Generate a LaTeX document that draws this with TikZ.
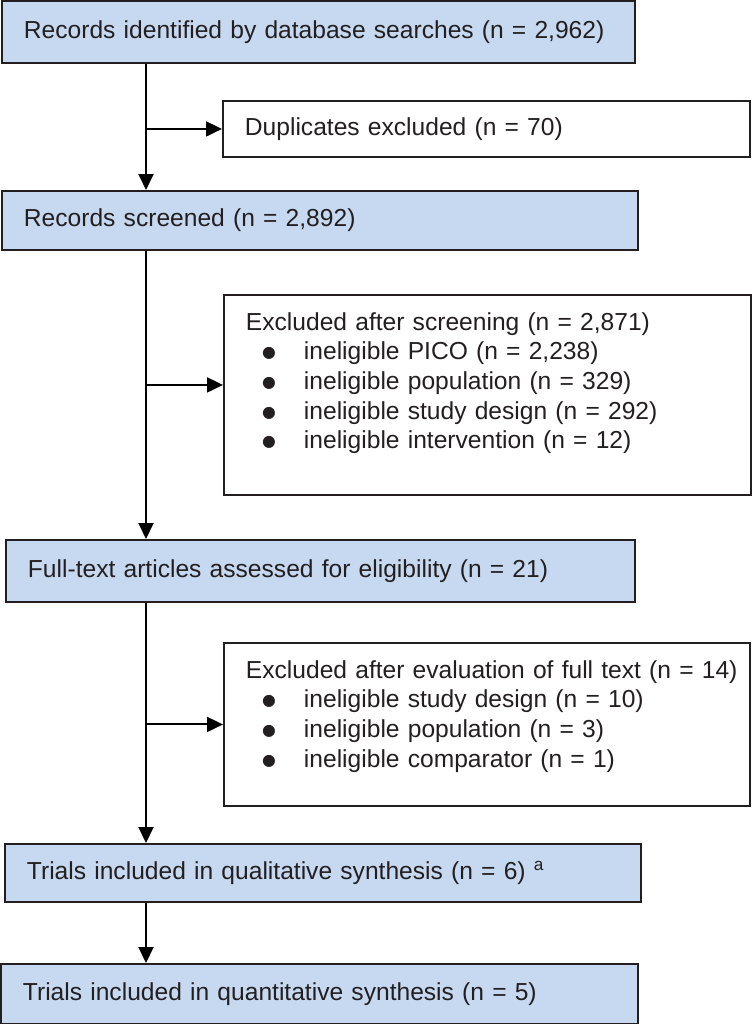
\documentclass[tikz,border=0pt]{standalone}
\usepackage{fontspec}
\setmainfont{Liberation Sans}
\newfontfamily\simboli{DejaVu Sans}
\usetikzlibrary{arrows.meta}
\newcommand{\voce}[1]{\hspace*{0.33cm}\makebox[0.26cm][c]{\raisebox{0.04cm}{\simboli\fontsize{9}{9}\selectfont ●}}\hspace*{0.57cm}#1}

\begin{document}
\begin{tikzpicture}[->, >={Triangle[length=0.32cm, width=0.3cm]}, x=0.02cm, y=-0.02cm, line width=1.1pt, font=\fontsize{14}{16.8}\selectfont]
%====Definizione colori===============================================================
	\definecolor{celeste}{RGB}{198,217,241}
	\definecolor{scuro}{RGB}{35,31,32}
%====Definizione stile blocchi===============================================================
	\tikzstyle{blocco}=[rectangle, draw=scuro, text=scuro, anchor=north west, align=left, inner xsep=0.44cm, inner ysep=0cm, text height=0.36cm, text depth=0.1cm]
	\tikzstyle{principale}=[blocco, fill=celeste]
	\tikzstyle{bianco}=[blocco, fill=white]
	\tikzstyle{elenco}=[bianco, inner ysep=0.35cm]
	\useasboundingbox (0,0) rectangle (752,1024);
%====Definizione blocchi e posizione===============================================================
	\node[principale, text width=11.78cm, minimum height=1.24cm]	(ID)	at (1,0)		{Records identified by database searches (n = 2,962)};
	\node[bianco, text width=9.66cm, minimum height=1.12cm]		(DUP)	at (222,100)	{Duplicates excluded (n = 70)};
	\node[principale, text width=11.84cm, minimum height=1.18cm]	(SCR)	at (1,190)	{Records screened (n = 2,892)};
	\node[elenco, text width=9.66cm, text depth=2.94cm]			(EX1)	at (223,294)	{\mbox{Excluded after screening (n = 2,871)}\\
		\voce{ineligible PICO (n = 2,238)}\\
		\voce{ineligible population (n = 329)}\\
		\voce{ineligible study design (n = 292)}\\
		\voce{ineligible intervention (n = 12)}};
	\node[principale, text width=11.70cm, minimum height=1.24cm]	(FT)	at (5,539)	{Full-text articles assessed for eligibility (n = 21)};
	\node[elenco, text width=9.64cm, text depth=2.2cm]				(EX2)	at (223,642)	{\mbox{Excluded after evaluation of full text (n = 14)}\\
		\voce{ineligible study design (n = 10)}\\
		\voce{ineligible population (n = 3)}\\
		\voce{ineligible comparator (n = 1)}};
	\node[principale, text width=11.84cm, minimum height=1.16cm]	(QL)	at (4,843)	{Trials included in qualitative synthesis (n = 6) \textsuperscript{a}};
	\node[principale, text width=11.86cm, minimum height=1.2cm]	(QN)	at (0,963)	{Trials included in quantitative synthesis (n = 5)};
%====Punti di appoggio===============================================================
	\coordinate (T) at (146,0);
	\coordinate (E1) at ([yshift=0.2cm]EX1.west);
%====Definizione collegamenti===============================================================
			%from				to
	\path	(ID.south -| T)		edge	(SCR.north -| T)
			(SCR.south -| T)	edge	(FT.north -| T)
			(FT.south -| T)		edge	(QL.north -| T)
			(QL.south -| T)		edge	(QN.north -| T)
			(T |- DUP.west)		edge	(DUP.west)
			(T |- E1)			edge	(E1)
			(T |- EX2.west)		edge	(EX2.west);
\end{tikzpicture}
\end{document}
